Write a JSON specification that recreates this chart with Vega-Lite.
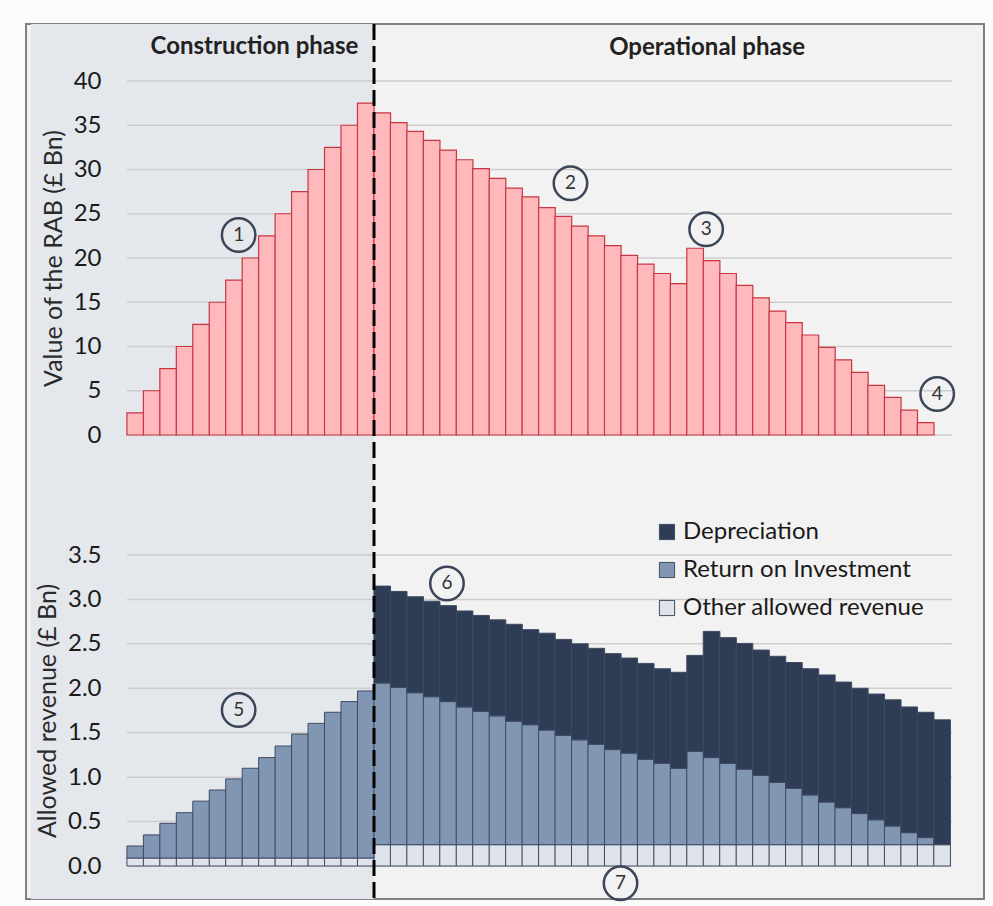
{
  "$schema": "https://vega.github.io/schema/vega-lite/v6.json",
  "width": 958,
  "height": 875,
  "autosize": {"type": "none"},
  "padding": {"left": 26, "top": 24, "right": 9, "bottom": 7},
  "background": "#fbfbfb",
  "config": {
    "font": "Lato",
    "view": {"fill": "#f2f2f2", "stroke": "#7d7f82", "strokeWidth": 2},
    "axis": {"labelFont": "Lato", "titleFont": "Lato"}
  },
  "datasets": {
    "rab": [
      {"year": 1, "rab": 2.5}, {"year": 2, "rab": 5}, {"year": 3, "rab": 7.5}, {"year": 4, "rab": 10}, {"year": 5, "rab": 12.5},
      {"year": 6, "rab": 15}, {"year": 7, "rab": 17.5}, {"year": 8, "rab": 20}, {"year": 9, "rab": 22.5}, {"year": 10, "rab": 25},
      {"year": 11, "rab": 27.5}, {"year": 12, "rab": 30}, {"year": 13, "rab": 32.5}, {"year": 14, "rab": 35}, {"year": 15, "rab": 37.5},
      {"year": 16, "rab": 36.4}, {"year": 17, "rab": 35.3}, {"year": 18, "rab": 34.3}, {"year": 19, "rab": 33.3}, {"year": 20, "rab": 32.2},
      {"year": 21, "rab": 31.1}, {"year": 22, "rab": 30.1}, {"year": 23, "rab": 29.0}, {"year": 24, "rab": 27.9}, {"year": 25, "rab": 26.9},
      {"year": 26, "rab": 25.7}, {"year": 27, "rab": 24.7}, {"year": 28, "rab": 23.6}, {"year": 29, "rab": 22.5}, {"year": 30, "rab": 21.4},
      {"year": 31, "rab": 20.3}, {"year": 32, "rab": 19.3}, {"year": 33, "rab": 18.25}, {"year": 34, "rab": 17.1}, {"year": 35, "rab": 21.1},
      {"year": 36, "rab": 19.7}, {"year": 37, "rab": 18.25}, {"year": 38, "rab": 16.9}, {"year": 39, "rab": 15.5}, {"year": 40, "rab": 14.0},
      {"year": 41, "rab": 12.7}, {"year": 42, "rab": 11.3}, {"year": 43, "rab": 9.9}, {"year": 44, "rab": 8.5}, {"year": 45, "rab": 7.07},
      {"year": 46, "rab": 5.6}, {"year": 47, "rab": 4.25}, {"year": 48, "rab": 2.8}, {"year": 49, "rab": 1.4}
    ],
    "rev": [
      {"year": 1, "other": 0.09, "roi": 0.225, "total": 0.225},
      {"year": 2, "other": 0.09, "roi": 0.35, "total": 0.35},
      {"year": 3, "other": 0.09, "roi": 0.48, "total": 0.48},
      {"year": 4, "other": 0.09, "roi": 0.60, "total": 0.60},
      {"year": 5, "other": 0.09, "roi": 0.73, "total": 0.73},
      {"year": 6, "other": 0.09, "roi": 0.855, "total": 0.855},
      {"year": 7, "other": 0.09, "roi": 0.98, "total": 0.98},
      {"year": 8, "other": 0.09, "roi": 1.10, "total": 1.10},
      {"year": 9, "other": 0.09, "roi": 1.22, "total": 1.22},
      {"year": 10, "other": 0.09, "roi": 1.35, "total": 1.35},
      {"year": 11, "other": 0.09, "roi": 1.485, "total": 1.485},
      {"year": 12, "other": 0.09, "roi": 1.605, "total": 1.605},
      {"year": 13, "other": 0.09, "roi": 1.73, "total": 1.73},
      {"year": 14, "other": 0.09, "roi": 1.85, "total": 1.85},
      {"year": 15, "other": 0.09, "roi": 1.97, "total": 1.97},
      {"year": 16, "other": 0.24, "roi": 2.06, "total": 3.15},
      {"year": 17, "other": 0.24, "roi": 2.01, "total": 3.09},
      {"year": 18, "other": 0.24, "roi": 1.95, "total": 3.03},
      {"year": 19, "other": 0.24, "roi": 1.905, "total": 2.98},
      {"year": 20, "other": 0.24, "roi": 1.85, "total": 2.93},
      {"year": 21, "other": 0.24, "roi": 1.79, "total": 2.87},
      {"year": 22, "other": 0.24, "roi": 1.74, "total": 2.82},
      {"year": 23, "other": 0.24, "roi": 1.69, "total": 2.77},
      {"year": 24, "other": 0.24, "roi": 1.63, "total": 2.72},
      {"year": 25, "other": 0.24, "roi": 1.59, "total": 2.66},
      {"year": 26, "other": 0.24, "roi": 1.53, "total": 2.62},
      {"year": 27, "other": 0.24, "roi": 1.47, "total": 2.55},
      {"year": 28, "other": 0.24, "roi": 1.42, "total": 2.50},
      {"year": 29, "other": 0.24, "roi": 1.37, "total": 2.45},
      {"year": 30, "other": 0.24, "roi": 1.31, "total": 2.39},
      {"year": 31, "other": 0.24, "roi": 1.27, "total": 2.34},
      {"year": 32, "other": 0.24, "roi": 1.20, "total": 2.28},
      {"year": 33, "other": 0.24, "roi": 1.155, "total": 2.22},
      {"year": 34, "other": 0.24, "roi": 1.10, "total": 2.18},
      {"year": 35, "other": 0.24, "roi": 1.29, "total": 2.37},
      {"year": 36, "other": 0.24, "roi": 1.22, "total": 2.64},
      {"year": 37, "other": 0.24, "roi": 1.155, "total": 2.57},
      {"year": 38, "other": 0.24, "roi": 1.09, "total": 2.505},
      {"year": 39, "other": 0.24, "roi": 1.02, "total": 2.43},
      {"year": 40, "other": 0.24, "roi": 0.94, "total": 2.36},
      {"year": 41, "other": 0.24, "roi": 0.874, "total": 2.29},
      {"year": 42, "other": 0.24, "roi": 0.80, "total": 2.22},
      {"year": 43, "other": 0.24, "roi": 0.72, "total": 2.15},
      {"year": 44, "other": 0.24, "roi": 0.656, "total": 2.07},
      {"year": 45, "other": 0.24, "roi": 0.59, "total": 2.0},
      {"year": 46, "other": 0.24, "roi": 0.52, "total": 1.935},
      {"year": 47, "other": 0.24, "roi": 0.45, "total": 1.87},
      {"year": 48, "other": 0.24, "roi": 0.375, "total": 1.79},
      {"year": 49, "other": 0.24, "roi": 0.32, "total": 1.73},
      {"year": 50, "other": 0.24, "roi": 0.24, "total": 1.645}
    ],
    "gridTop": [{"g": 0}, {"g": 5}, {"g": 10}, {"g": 15}, {"g": 20}, {"g": 25}, {"g": 30}, {"g": 35}, {"g": 40}],
    "gridBottom": [{"g": 0}, {"g": 0.5}, {"g": 1}, {"g": 1.5}, {"g": 2}, {"g": 2.5}, {"g": 3}, {"g": 3.5}]
  },
  "resolve": {"scale": {"y": "independent"}, "axis": {"y": "independent"}},
  "layer": [
    {
      "data": {"values": [{}]},
      "mark": {"type": "rect", "color": "#e4e7ec"},
      "encoding": {
        "x": {"datum": -5.33, "type": "quantitative", "scale": {"domain": [-5.33, 52.24], "nice": false, "zero": false}, "axis": null},
        "x2": {"datum": 15.5}
      }
    },
    {
      "layer": [
        {
          "data": {"name": "gridTop"},
          "mark": {"type": "rule", "color": "#cdcdcd", "strokeWidth": 1.5},
          "encoding": {
            "x": {"datum": 0.5, "type": "quantitative"},
            "x2": {"datum": 50.6},
            "y": {"field": "g", "type": "quantitative"}
          }
        },
        {
          "data": {"name": "rab"},
          "mark": {"type": "bar", "fill": "#ffb9bd", "stroke": "#c9363f", "strokeWidth": 1.2, "width": 16.64},
          "encoding": {
            "x": {"field": "year", "type": "quantitative"},
            "y": {"field": "rab", "type": "quantitative",
                  "scale": {"domain": [0, 40], "range": [411, 57]},
                  "axis": {"orient": "left", "offset": -97, "values": [0, 5, 10, 15, 20, 25, 30, 35, 40],
                           "domain": false, "ticks": false, "grid": false, "zindex": 1,
                           "labelPadding": 22, "labelFontSize": 24, "labelColor": "#1a1a1a",
                           "title": "Value of the RAB (£ Bn)", "titleFontSize": 25, "titleFontWeight": "normal",
                           "titleColor": "#2a2a2a", "titlePadding": 7}}
          }
        },
        {
          "data": {"values": [{}]},
          "mark": {"type": "text", "text": "Construction phase", "fontSize": 24, "fontWeight": "bold", "color": "#222222", "align": "center", "baseline": "middle"},
          "encoding": {"x": {"datum": 8.24, "type": "quantitative"}, "y": {"datum": 43.8, "type": "quantitative"}}
        },
        {
          "data": {"values": [{}]},
          "mark": {"type": "text", "text": "Operational phase", "fontSize": 24, "fontWeight": "bold", "color": "#222222", "align": "center", "baseline": "middle"},
          "encoding": {"x": {"datum": 35.73, "type": "quantitative"}, "y": {"datum": 43.7, "type": "quantitative"}}
        },
        {
          "data": {"values": [{}]},
          "mark": {"type": "point", "shape": "circle", "size": 1120, "filled": false, "stroke": "#3b4658", "strokeWidth": 2.5, "opacity": 1},
          "encoding": {"x": {"datum": 7.28, "type": "quantitative"}, "y": {"datum": 22.6, "type": "quantitative"}}
        },
        {
          "data": {"values": [{}]},
          "mark": {"type": "text", "text": "1", "fontSize": 19, "color": "#333333", "baseline": "middle"},
          "encoding": {"x": {"datum": 7.28, "type": "quantitative"}, "y": {"datum": 22.6, "type": "quantitative"}}
        },
        {
          "data": {"values": [{}]},
          "mark": {"type": "point", "shape": "circle", "size": 1120, "filled": false, "stroke": "#3b4658", "strokeWidth": 2.5, "opacity": 1},
          "encoding": {"x": {"datum": 27.43, "type": "quantitative"}, "y": {"datum": 28.44, "type": "quantitative"}}
        },
        {
          "data": {"values": [{}]},
          "mark": {"type": "text", "text": "2", "fontSize": 19, "color": "#333333", "baseline": "middle"},
          "encoding": {"x": {"datum": 27.43, "type": "quantitative"}, "y": {"datum": 28.44, "type": "quantitative"}}
        },
        {
          "data": {"values": [{}]},
          "mark": {"type": "point", "shape": "circle", "size": 1120, "filled": false, "stroke": "#3b4658", "strokeWidth": 2.5, "opacity": 1},
          "encoding": {"x": {"datum": 35.67, "type": "quantitative"}, "y": {"datum": 23.24, "type": "quantitative"}}
        },
        {
          "data": {"values": [{}]},
          "mark": {"type": "text", "text": "3", "fontSize": 19, "color": "#333333", "baseline": "middle"},
          "encoding": {"x": {"datum": 35.67, "type": "quantitative"}, "y": {"datum": 23.24, "type": "quantitative"}}
        },
        {
          "data": {"values": [{}]},
          "mark": {"type": "point", "shape": "circle", "size": 1120, "filled": false, "stroke": "#3b4658", "strokeWidth": 2.5, "opacity": 1},
          "encoding": {"x": {"datum": 49.7, "type": "quantitative"}, "y": {"datum": 4.63, "type": "quantitative"}}
        },
        {
          "data": {"values": [{}]},
          "mark": {"type": "text", "text": "4", "fontSize": 19, "color": "#333333", "baseline": "middle"},
          "encoding": {"x": {"datum": 49.7, "type": "quantitative"}, "y": {"datum": 4.63, "type": "quantitative"}}
        }
      ]
    },
    {
      "layer": [
        {
          "data": {"name": "gridBottom"},
          "mark": {"type": "rule", "color": "#cdcdcd", "strokeWidth": 1.5},
          "encoding": {
            "x": {"datum": 0.5, "type": "quantitative"},
            "x2": {"datum": 50.6},
            "y": {"field": "g", "type": "quantitative"}
          }
        },
        {
          "data": {"name": "rev"},
          "mark": {"type": "bar", "stroke": "#3e4b62", "strokeWidth": 1, "width": 16.64},
          "encoding": {
            "x": {"field": "year", "type": "quantitative"},
            "y": {"field": "other", "type": "quantitative",
                  "scale": {"domain": [0, 3.5], "range": [842, 531]},
                  "axis": {"orient": "left", "offset": -97, "values": [0, 0.5, 1, 1.5, 2, 2.5, 3, 3.5], "format": ".1f",
                           "domain": false, "ticks": false, "grid": false, "zindex": 1,
                           "labelPadding": 22, "labelFontSize": 24, "labelColor": "#1a1a1a",
                           "title": "Allowed revenue (£ Bn)", "titleFontSize": 25, "titleFontWeight": "normal",
                           "titleColor": "#2a2a2a", "titlePadding": 7}},
            "color": {"datum": "Other allowed revenue",
                      "scale": {"domain": ["Depreciation", "Return on Investment", "Other allowed revenue"],
                                "range": ["#2f3c55", "#8196b2", "#dee3ec"]},
                      "legend": {"orient": "none", "legendX": 629, "legendY": 496, "title": null,
                                 "symbolType": "square", "symbolSize": 230, "symbolStrokeColor": "#5a6478", "symbolStrokeWidth": 1,
                                 "labelFontSize": 24, "labelLimit": 400, "labelColor": "#1a1a1a", "labelOffset": 4, "rowPadding": 14}}
          }
        },
        {
          "data": {"name": "rev"},
          "transform": [{"filter": "datum.roi > datum.other"}],
          "mark": {"type": "bar", "stroke": "#3e4b62", "strokeWidth": 1, "width": 16.64},
          "encoding": {
            "x": {"field": "year", "type": "quantitative"},
            "y": {"field": "roi", "type": "quantitative"},
            "y2": {"field": "other"},
            "color": {"datum": "Return on Investment"}
          }
        },
        {
          "data": {"name": "rev"},
          "transform": [{"filter": "datum.total > datum.roi"}],
          "mark": {"type": "bar", "stroke": "#3e4b62", "strokeWidth": 1, "width": 16.64},
          "encoding": {
            "x": {"field": "year", "type": "quantitative"},
            "y": {"field": "total", "type": "quantitative"},
            "y2": {"field": "roi"},
            "color": {"datum": "Depreciation"}
          }
        },
        {
          "data": {"values": [{}]},
          "mark": {"type": "point", "shape": "circle", "size": 1120, "filled": false, "stroke": "#3b4658", "strokeWidth": 2.5, "opacity": 1},
          "encoding": {"x": {"datum": 7.28, "type": "quantitative"}, "y": {"datum": 1.756, "type": "quantitative"}}
        },
        {
          "data": {"values": [{}]},
          "mark": {"type": "text", "text": "5", "fontSize": 19, "color": "#333333", "baseline": "middle"},
          "encoding": {"x": {"datum": 7.28, "type": "quantitative"}, "y": {"datum": 1.756, "type": "quantitative"}}
        },
        {
          "data": {"values": [{}]},
          "mark": {"type": "point", "shape": "circle", "size": 1120, "filled": false, "stroke": "#3b4658", "strokeWidth": 2.5, "opacity": 1},
          "encoding": {"x": {"datum": 19.93, "type": "quantitative"}, "y": {"datum": 3.18, "type": "quantitative"}}
        },
        {
          "data": {"values": [{}]},
          "mark": {"type": "text", "text": "6", "fontSize": 19, "color": "#333333", "baseline": "middle"},
          "encoding": {"x": {"datum": 19.93, "type": "quantitative"}, "y": {"datum": 3.18, "type": "quantitative"}}
        },
        {
          "data": {"values": [{}]},
          "mark": {"type": "point", "shape": "circle", "size": 1120, "filled": false, "stroke": "#3b4658", "strokeWidth": 2.5, "opacity": 1},
          "encoding": {"x": {"datum": 30.47, "type": "quantitative"}, "y": {"datum": -0.195, "type": "quantitative"}}
        },
        {
          "data": {"values": [{}]},
          "mark": {"type": "text", "text": "7", "fontSize": 19, "color": "#333333", "baseline": "middle"},
          "encoding": {"x": {"datum": 30.47, "type": "quantitative"}, "y": {"datum": -0.195, "type": "quantitative"}}
        }
      ]
    },
    {
      "data": {"values": [{}]},
      "mark": {"type": "rule", "color": "#000000", "strokeWidth": 3, "strokeDash": [16, 6]},
      "encoding": {"x": {"datum": 15.5, "type": "quantitative"}}
    }
  ]
}
